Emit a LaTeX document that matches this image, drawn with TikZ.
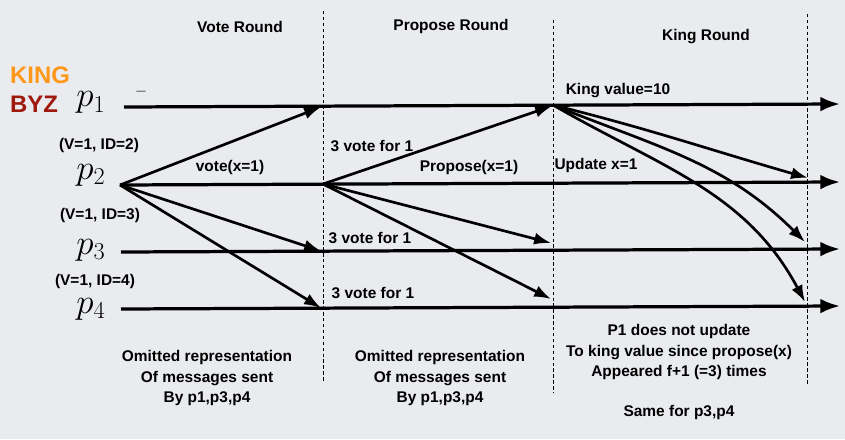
\documentclass[tikz,border=0pt]{standalone}
\usepackage{amsmath}
\usepackage{fontspec}
\setmainfont{Liberation Sans}
\usetikzlibrary{arrows.meta}
\definecolor{bgColor}{RGB}{233,235,238}
\definecolor{kingColor}{RGB}{255,152,26}
\definecolor{byzColor}{RGB}{158,24,12}

\begin{document}
\begin{tikzpicture}[x=0.025cm,y=-0.025cm]

            \tikzstyle{textNode} = [font=\bfseries\fontsize{11}{14.5}\selectfont, inner sep=0pt];
            \tikzstyle{noteNode} = [textNode, align=center];
            \tikzstyle{roleNode} = [font=\bfseries\fontsize{17}{20}\selectfont, inner sep=0pt];
            \tikzstyle{procNode} = [font=\fontsize{27}{30}\selectfont, inner sep=0pt, anchor=base];

            \tikzstyle{timeEdge} = [line width=2.3pt, -{Latex[length=14pt,width=10.5pt]}];
            \tikzstyle{msgEdge} = [line width=1.9pt, -{Latex[length=12pt,width=8.5pt]}];
            \tikzstyle{roundEdge} = [line width=0.6pt, dash pattern=on 2.4pt off 1.8pt];

            \useasboundingbox (0,0) rectangle (845,439);
            \fill[bgColor] (0,0) rectangle (845,439);

            % round borders
            \coordinate (d1t) at (323,11);  \coordinate (d1b) at (323,383);
            \coordinate (d2t) at (553,20);  \coordinate (d2b) at (553,393);
            \coordinate (d3t) at (807,14);  \coordinate (d3b) at (807,386);
            \draw[roundEdge] (d1t) -- (d1b);
            \draw[roundEdge] (d2t) -- (d2b);
            \draw[roundEdge] (d3t) -- (d3b);

            \node[textNode] (vote) at (240,27) {Vote Round};
            \node[textNode] (propose) at (451,27) {Propose Round};
            \node[textNode] (king) at (706,37) {King Round};

            % processes
            \node[roleNode, kingColor] (kingLbl) at (40,75) {KING};
            \node[roleNode, byzColor] (byzLbl) at (34,104) {BYZ};
            \node[procNode] (p1) at (91,107) {$p_1$};
            \node[procNode] (p2) at (91,179) {$p_2$};
            \node[procNode] (p3) at (91,254) {$p_3$};
            \node[procNode] (p4) at (91,313) {$p_4$};
            \node[textNode] (dash1) at (141,92) {$-$};
            \node[textNode] (id2) at (99,146) {(V=1, ID=2)};
            \node[textNode] (id3) at (100,215) {(V=1, ID=3)};
            \node[textNode] (id4) at (95,281) {(V=1, ID=4)};

            % time lines
            \coordinate (s1) at (124,107);  \coordinate (e1) at (840,104);
            \coordinate (v2) at (120,185);  \coordinate (e2) at (840,182);
            \coordinate (s3) at (121,252);  \coordinate (e3) at (840,249);
            \coordinate (s4) at (121,309);  \coordinate (e4) at (840,306);
            \draw[timeEdge] (s1) -- (e1);
            \draw[timeEdge] (v2) -- (e2);
            \draw[timeEdge] (s3) -- (e3);
            \draw[timeEdge] (s4) -- (e4);

            % vote round
            \coordinate (v1) at (321,107);
            \coordinate (v3) at (321,251);
            \coordinate (v4) at (321,308);
            \draw[msgEdge] (v2) -- (v1);
            \draw[msgEdge] (v2) -- (v3);
            \draw[msgEdge] (v2) -- (v4);
            \node[textNode] (voteMsg) at (230,168) {vote(x=1)};

            % propose round
            \coordinate (r2) at (323,184);
            \coordinate (r1) at (552,106);
            \coordinate (r3) at (551,243);
            \coordinate (r4) at (551,299);
            \draw[msgEdge] (r2) -- (r1);
            \draw[msgEdge] (r2) -- (r3);
            \draw[msgEdge] (r2) -- (r4);
            \node[textNode] (cnt2) at (372,146) {3 vote for 1};
            \node[textNode] (cnt3) at (370,238) {3 vote for 1};
            \node[textNode] (cnt4) at (373,293) {3 vote for 1};
            \node[textNode] (proposeMsg) at (469,168) {Propose(x=1)};

            % king round
            \coordinate (k1) at (553,105);
            \coordinate (k2) at (808,178);
            \coordinate (k3) at (805,242);
            \coordinate (k4) at (805,302);
            \draw[msgEdge] (k1) to[out=-14, in=164] (k2);
            \draw[msgEdge] (k1) to[out=-22, in=135] (k3);
            \draw[msgEdge] (k1) to[out=-30, in=118] (k4);
            \node[textNode] (kingMsg) at (618,91) {King value=10};
            \node[textNode] (updMsg) at (596,166) {Update x=1};

            % notes
            \node[noteNode] (note1) at (207,378) {Omitted representation\\Of messages sent\\By p1,p3,p4};
            \node[noteNode] (note2) at (440,378) {Omitted representation\\Of messages sent\\By p1,p3,p4};
            \node[noteNode] (note3) at (679,352) {P1 does not update\\To king value since propose(x)\\Appeared f+1 (=3) times};
            \node[textNode] (note4) at (679,412) {Same for p3,p4};
          \end{tikzpicture}
\end{document}
